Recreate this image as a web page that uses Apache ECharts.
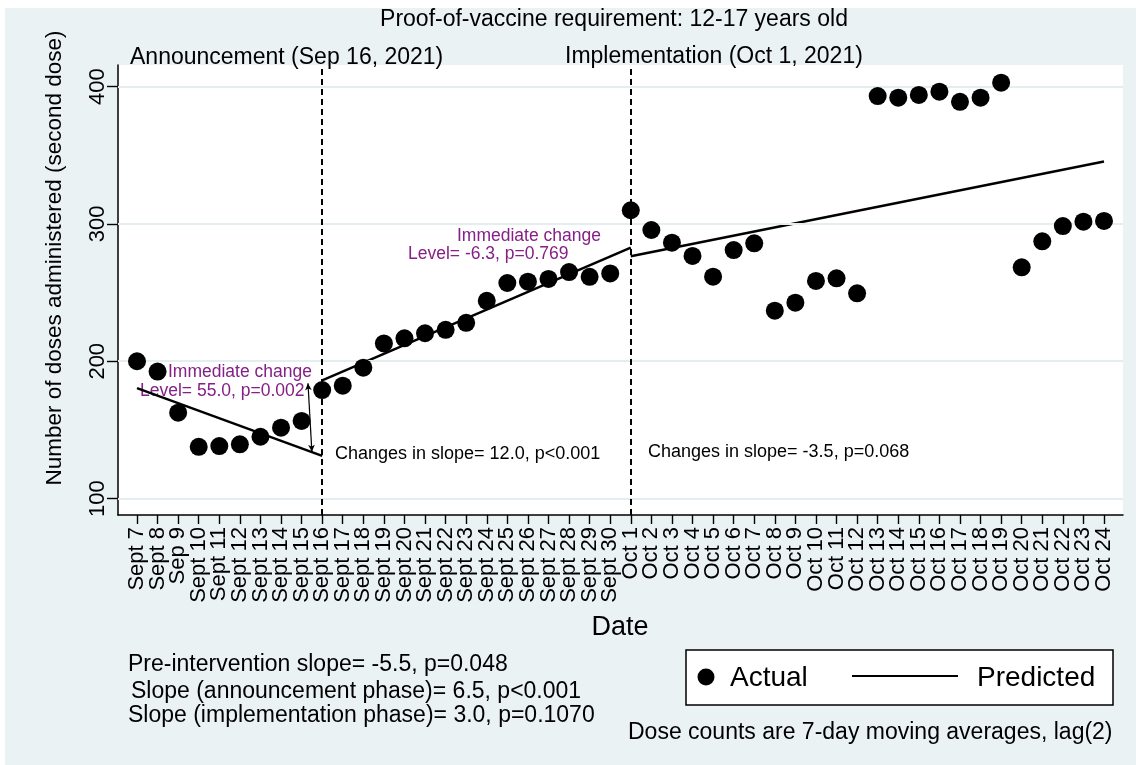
<!DOCTYPE html>
<html>
<head>
<meta charset="utf-8">
<script src="https://cdn.jsdelivr.net/npm/echarts@6/dist/echarts.min.js"></script>
<style>
  html, body { margin: 0; padding: 0; background: #ffffff; }
  #chart { position: absolute; left: 5px; top: 8px; width: 1131px; height: 757px; }
</style>
</head>
<body>
<div id="chart"></div>
<script>
// Daily dates on the horizontal axis
const dates = [
  'Sept 7', 'Sept 8', 'Sep 9', 'Sept 10', 'Sept 11', 'Sept 12', 'Sept 13', 'Sept 14',
  'Sept 15', 'Sept 16', 'Sept 17', 'Sept 18', 'Sept 19', 'Sept 20', 'Sept 21', 'Sept 22',
  'Sept 23', 'Sept 24', 'Sept 25', 'Sept 26', 'Sept 27', 'Sept 28', 'Sept 29', 'Sept 30',
  'Oct 1', 'Oct 2', 'Oct 3', 'Oct 4', 'Oct 5', 'Oct 6', 'Oct 7', 'Oct 8',
  'Oct 9', 'Oct 10', 'Oct 11', 'Oct 12', 'Oct 13', 'Oct 14', 'Oct 15', 'Oct 16',
  'Oct 17', 'Oct 18', 'Oct 19', 'Oct 20', 'Oct 21', 'Oct 22', 'Oct 23', 'Oct 24'
];

// Second doses administered (7-day moving average, lag 2)
const actual = [
  200, 192.5, 162.5, 137.7, 138.2, 139.5, 145, 151.6,
  156.5, 179, 182.2, 195.3, 213, 216.7, 220.4, 222.9,
  228, 244, 257, 258, 260, 265, 261.5, 264,
  310, 295.6, 286.4, 276.7, 261.6, 281, 285.9, 236.8,
  242.7, 258.5, 260.4, 249.5, 393.2, 392, 394, 396.4,
  389, 392, 402.9, 268.4, 287.4, 298.5, 301.7, 302.2
];

// Segmented-regression fit: [day index, predicted doses]
const predPre = [[0, 180.5], [9, 131]];
const predAnnouncement = [[9, 186], [24, 282.8]];
const predImplementation = [[24, 276.5], [47, 345.5]];

// Intervention dates (day index) and the level-change arrow
const announcementDay = 9;
const implementationDay = 24;
const levelArrow = [[8.31, 184], [8.5, 134]];

const yTicks = [100, 200, 300, 400];

const FONT = '"Liberation Sans", Arial, Helvetica, sans-serif';
const PURPLE = '#862086';
const BG = '#EAF2F3';
const OX = 5, OY = 8; // offset of the chart box inside the page

// plot box (page pixels) and the span from the first to the last day tick
const PLOT = { left: 118, top: 65, right: 1123, bottom: 515 };
const DAY0 = 137, DAYN = 1104;
const pxPerDay = (DAYN - DAY0) / (dates.length - 1);

function txt(text, x, y, size, color, extra) {
  return {
    type: 'text',
    x: x - OX,
    y: y - OY,
    silent: true,
    style: Object.assign({
      text: text,
      fill: color || '#000',
      font: size + 'px ' + FONT,
      textAlign: 'left',
      textVerticalAlign: 'middle'
    }, extra || {})
  };
}

const chart = echarts.init(document.getElementById('chart'), null, { renderer: 'canvas' });

const option = {
  backgroundColor: BG,
  animation: false,
  textStyle: { fontFamily: FONT },
  grid: [
    {
      // plotting area
      left: PLOT.left - OX, top: PLOT.top - OY,
      width: PLOT.right - PLOT.left, height: PLOT.bottom - PLOT.top,
      show: true, backgroundColor: '#ffffff', borderWidth: 0
    },
    {
      // date axis spanning first to last day
      left: DAY0 - OX, top: PLOT.top - OY,
      width: DAYN - DAY0, height: PLOT.bottom - PLOT.top,
      show: false
    }
  ],
  xAxis: [
    {
      type: 'value', gridIndex: 0,
      min: -(DAY0 - PLOT.left) / pxPerDay,
      max: (dates.length - 1) + (PLOT.right - DAYN) / pxPerDay,
      axisLine: { show: true, onZero: false, lineStyle: { color: '#000', width: 1.5 } },
      axisTick: { show: false },
      axisLabel: { show: false },
      splitLine: { show: false }
    },
    {
      type: 'category', gridIndex: 1, data: dates, boundaryGap: false,
      axisLine: { show: false },
      axisTick: { show: true, interval: 0, length: 9, lineStyle: { color: '#000', width: 1.4 } },
      axisLabel: {
        interval: 0, rotate: 90, margin: 12, fontSize: 22, color: '#000', fontFamily: FONT
      },
      splitLine: { show: false }
    }
  ],
  yAxis: [
    {
      type: 'value', gridIndex: 0,
      min: 88,
      max: 415.8,
      axisLine: { show: true, onZero: false, lineStyle: { color: '#000', width: 1.5 } },
      axisTick: { show: true, customValues: yTicks, length: 11, lineStyle: { color: '#000', width: 1.4 } },
      axisLabel: { customValues: yTicks, rotate: 90, margin: 9, fontSize: 22, color: '#000', fontFamily: FONT },
      splitLine: { show: false }
    },
    {
      type: 'value', gridIndex: 1, min: 0, max: 1, show: false
    }
  ],
  series: [
    {
      // horizontal grid lines
      type: 'line', data: [], z: 1, silent: true,
      markLine: {
        silent: true, symbol: 'none', animation: false,
        label: { show: false },
        lineStyle: { color: '#E4EEF0', width: 2, type: 'solid' },
        data: yTicks.map(v => ({ yAxis: v }))
      }
    },
    {
      // announcement / implementation dates
      type: 'line', data: [], z: 3, silent: true,
      markLine: {
        silent: true, symbol: 'none', animation: false,
        label: { show: false },
        lineStyle: { color: '#000', width: 2, type: [6, 4] },
        data: [{ xAxis: announcementDay }, { xAxis: implementationDay }]
      }
    },
    {
      // immediate level change at the announcement
      type: 'line', data: [], z: 4, silent: true,
      markLine: {
        silent: true, symbol: ['arrow', 'arrow'], symbolSize: [5, 7], animation: false,
        label: { show: false },
        lineStyle: { color: '#000', width: 1.2, type: 'solid' },
        data: [[{ coord: levelArrow[0] }, { coord: levelArrow[1] }]]
      }
    },
    {
      name: 'Predicted', type: 'line', data: predPre, symbol: 'none', z: 4,
      lineStyle: { color: '#000', width: 2.4 }
    },
    {
      name: 'Predicted', type: 'line', data: predAnnouncement, symbol: 'none', z: 4,
      lineStyle: { color: '#000', width: 2.4 }
    },
    {
      name: 'Predicted', type: 'line', data: predImplementation, symbol: 'none', z: 4,
      lineStyle: { color: '#000', width: 2.4 }
    },
    {
      name: 'Actual', type: 'scatter', z: 5,
      data: actual.map((v, i) => [i, v]),
      symbol: 'circle', symbolSize: 18,
      itemStyle: { color: '#000', opacity: 1 }
    }
  ],
  graphic: [
    txt('Proof-of-vaccine requirement: 12-17 years old', 614, 20, 23, '#000', { textAlign: 'center' }),
    txt('Announcement (Sep 16, 2021)', 130, 58, 23),
    txt('Implementation (Oct 1, 2021)', 565, 57, 23),
    {
      type: 'text', x: 55 - OX, y: 258 - OY, rotation: Math.PI / 2, silent: true,
      style: {
        text: 'Number of doses administered (second dose)', fill: '#000',
        font: '22.5px ' + FONT, textAlign: 'center', textVerticalAlign: 'middle'
      }
    },
    txt('Date', 620, 628, 27, '#000', { textAlign: 'center' }),

    txt('Immediate change', 168, 372, 17.5, PURPLE),
    txt('Level= 55.0, p=0.002', 140, 391, 17.5, PURPLE),
    txt('Immediate change', 457, 236, 17.5, PURPLE),
    txt('Level= -6.3, p=0.769', 408, 254, 17.5, PURPLE),
    txt('Changes in slope= 12.0, p<0.001', 335, 454, 18),
    txt('Changes in slope= -3.5, p=0.068', 648, 452, 18),

    txt('Pre-intervention slope= -5.5, p=0.048', 128, 665, 23),
    txt('Slope (announcement phase)= 6.5, p<0.001', 131, 692, 23),
    txt('Slope (implementation phase)= 3.0, p=0.1070', 128, 716, 23),
    txt('Dose counts are 7-day moving averages, lag(2)', 628, 733, 23),

    // legend box
    {
      type: 'rect', silent: true,
      shape: { x: 686 - OX, y: 650 - OY, width: 427, height: 55 },
      style: { fill: '#ffffff', stroke: '#000', lineWidth: 1.5 }
    },
    {
      type: 'circle', silent: true,
      shape: { cx: 706 - OX, cy: 677 - OY, r: 8.5 },
      style: { fill: '#000' }
    },
    txt('Actual', 730, 678, 28),
    {
      type: 'line', silent: true,
      shape: { x1: 852 - OX, y1: 676 - OY, x2: 958 - OX, y2: 676 - OY },
      style: { stroke: '#000', lineWidth: 2 }
    },
    txt('Predicted', 977, 678, 28)
  ]
};

chart.setOption(option);
</script>
</body>
</html>
